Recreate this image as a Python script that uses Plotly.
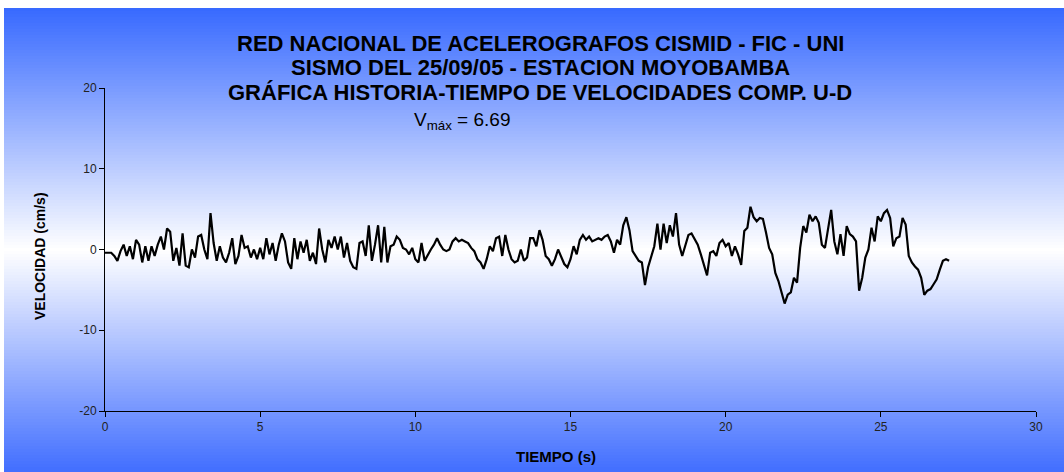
import plotly.graph_objects as go

# ---- data ----
dt = 0.1
velocidad = [
    -0.4, -0.4, -0.4, -0.8, -1.4, -0.2, 0.6, -0.8, 0.4, -1.2,
    1.2, 0.6, -1.6, 0.4, -1.4, 0.4, -0.8, 0.6, 1.6, 0.0,
    2.6, 2.2, -1.4, 0.2, -2.0, 2.0, -2.0, -2.2, 0.0, -1.0,
    1.6, 1.8, 0.0, -1.2, 4.5, 0.8, -1.4, 0.4, -1.0, -1.6,
    -0.4, 1.4, -1.8, -0.8, 1.8, 0.2, 0.4, -1.0, 0.0, -1.2,
    0.2, -1.2, 1.4, -0.6, 0.8, -1.4, 0.6, 2.0, 1.0, -1.6,
    -2.4, 1.4, -1.2, 1.0, -0.4, 1.2, -1.4, -0.4, -1.8, 2.6,
    0.0, -1.6, 1.2, 0.2, 1.6, 0.0, 1.6, -1.0, 0.8, -1.4,
    -2.2, -2.4, 0.8, 1.0, -0.8, 3.0, -1.4, 0.6, 3.0, -1.6,
    2.8, -1.6, 0.4, 0.6, 1.6, 1.2, 0.2, 0.0, -0.6, 0.2,
    -1.2, -1.6, 0.8, -1.4, -0.6, 0.0, 0.6, 1.4, 0.6, 0.0,
    -0.2, 0.0, 1.0, 1.4, 1.0, 1.2, 1.0, 0.8, 0.2, -0.2,
    -1.2, -1.6, -2.4, -1.2, 0.4, -0.2, 1.4, 1.6, -0.8, 1.8,
    0.0, -1.2, -1.6, -1.4, 0.0, -1.4, -1.0, 1.4, 1.4, 0.4,
    2.4, 1.2, -0.8, -1.2, -2.0, -1.2, 0.0, -1.0, -1.8, -2.2,
    -1.2, 0.4, -0.6, 1.2, 1.8, 1.2, 1.6, 1.0, 1.2, 1.4,
    1.2, 1.6, 1.8, 1.0, -0.4, 1.2, 0.6, 3.0, 4.0, 2.4,
    -0.2, -0.8, -1.4, -1.6, -4.4, -2.2, -1.0, 0.4, 3.2, 0.0,
    3.2, 0.8, 3.0, 1.6, 4.5, 0.6, -0.8, 0.4, 1.8, 2.0,
    1.2, 0.6, -0.6, -2.0, -3.2, -0.4, -0.2, -0.8, 0.8, 1.2,
    0.4, 0.8, -0.8, 0.4, -0.6, -1.9, 2.3, 2.7, 5.3, 4.0,
    3.5, 3.9, 3.8, 2.1, 0.2, -0.6, -2.9, -3.9, -5.3, -6.69,
    -5.6, -5.3, -3.5, -4.1, 0.2, 2.9, 2.1, 4.3, 3.5, 4.1,
    3.3, 0.6, 0.2, 2.7, 4.9, 1.0, -0.6, 1.9, -0.8, 2.9,
    1.9, 1.6, 1.0, -5.1, -3.5, -1.0, 0.0, 2.7, 1.0, 4.1,
    3.5, 4.5, 4.9, 3.9, 0.4, 1.4, 1.6, 3.9, 3.1, -0.8,
    -1.6, -2.1, -2.5, -3.5, -5.6, -5.1, -4.9, -4.3, -3.7, -2.5,
    -1.4, -1.2, -1.4,
]
tiempo = [round(i * dt, 2) for i in range(len(velocidad))]

x_ticks = [0, 5, 10, 15, 20, 25, 30]
y_ticks = [-20, -10, 0, 10, 20]
y_tick_labels = ["-20", "-10", "0", "10", "20"]

titulo = [
    "RED NACIONAL DE ACELEROGRAFOS CISMID - FIC - UNI",
    "SISMO DEL 25/09/05 - ESTACION MOYOBAMBA",
    "GRÁFICA HISTORIA-TIEMPO DE VELOCIDADES COMP. U-D",
]
vmax_text = "V<sub>máx</sub> = 6.69"
x_title = "TIEMPO (s)"
y_title = "VELOCIDAD (cm/s)"

# ---- geometry ----
W, H = 1064, 472
L, R, T, B = 105, 28, 88, 61
pw, ph = W - L - R, H - T - B


def px(xp):
    return (xp - L) / pw


def py(yp):
    return (H - B - yp) / ph


# ---- background gradient (blue -> white -> blue) ----
blue_top = (55, 105, 255)
blue_bot = (65, 110, 255)
center = 250
shapes = [dict(type="rect", xref="paper", yref="paper", x0=px(0), x1=px(W),
               y0=py(H), y1=py(0), fillcolor="white", line_width=0, layer="below")]
step = 3
for y0 in range(8, H, step):
    y1 = min(y0 + step, H)
    ym = (y0 + y1) / 2
    if ym < center:
        f = (center - ym) / (center - 8)
        c = blue_top
    else:
        f = (ym - center) / (H - center)
        c = blue_bot
    f = max(0.0, min(1.0, f))
    col = tuple(round(255 + (ci - 255) * f) for ci in c)
    shapes.append(dict(type="rect", xref="paper", yref="paper",
                       x0=px(4), x1=px(W), y0=py(y1 + 0.5), y1=py(y0),
                       fillcolor="rgb(%d,%d,%d)" % col, line_width=0, layer="below"))

fig = go.Figure()
fig.add_trace(go.Scatter(x=tiempo, y=velocidad, mode="lines",
                         line=dict(color="black", width=2.2), showlegend=False,
                         hoverinfo="skip"))

tfont = dict(family="Liberation Sans, Arial", size=22, color="black")
annotations = []
for txt, yy in zip(titulo, [44, 68, 93]):
    annotations.append(dict(text="<b>%s</b>" % txt, x=px(540), y=py(yy), xref="paper", yref="paper",
                            showarrow=False, xanchor="center", yanchor="middle", font=tfont))
annotations.append(dict(text=vmax_text, x=px(412), y=py(121), xref="paper", yref="paper",
                        showarrow=False, xanchor="left", yanchor="middle",
                        font=dict(family="Liberation Sans, Arial", size=19, color="black")))
annotations.append(dict(text="<b>%s</b>" % x_title, x=px(556), y=py(456), xref="paper", yref="paper",
                        showarrow=False, xanchor="center", yanchor="middle",
                        font=dict(family="Liberation Sans, Arial", size=15, color="black")))
annotations.append(dict(text="<b>%s</b>" % y_title, x=px(40), y=py(256), xref="paper", yref="paper",
                        showarrow=False, xanchor="center", yanchor="middle", textangle=-90,
                        font=dict(family="Liberation Sans, Arial", size=14, color="black")))

axis_common = dict(showgrid=False, zeroline=False, showline=True, linecolor="black", linewidth=1,
                   ticks="outside", ticklen=5, tickcolor="black", tickwidth=1,
                   tickfont=dict(family="Liberation Sans, Arial", size=12, color="#222"))

fig.update_layout(
    width=W, height=H,
    margin=dict(l=L, r=R, t=T, b=B, pad=0),
    paper_bgcolor="white",
    plot_bgcolor="rgba(0,0,0,0)",
    shapes=shapes,
    annotations=annotations,
    xaxis=dict(range=[0, 30], tickvals=x_ticks, **axis_common),
    yaxis=dict(range=[-20, 20], tickvals=y_ticks, ticktext=y_tick_labels, **axis_common),
)

fig.write_html("out.html", config={"displayModeBar": False},
               post_script="document.body.style.margin='0';document.body.style.overflow='hidden';")
